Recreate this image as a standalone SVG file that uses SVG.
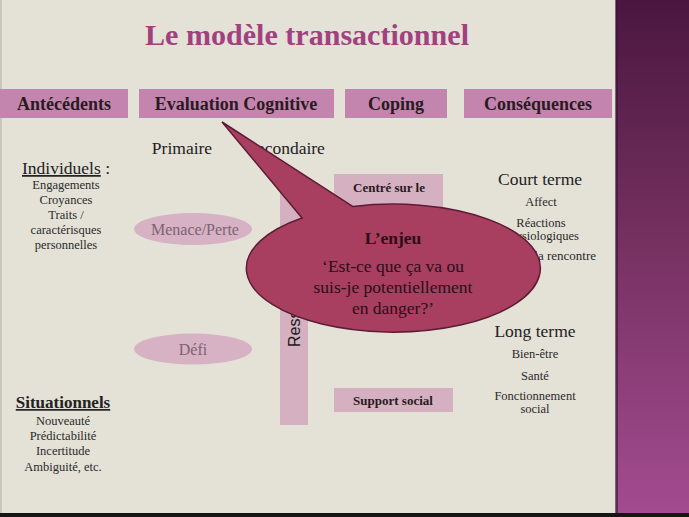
<svg xmlns="http://www.w3.org/2000/svg" width="689" height="517" viewBox="0 0 689 517">
<defs>
<linearGradient id="panel" x1="0" y1="0" x2="0" y2="1">
<stop offset="0" stop-color="#4a1740"/>
<stop offset="0.45" stop-color="#74305f"/>
<stop offset="1" stop-color="#a34c91"/>
</linearGradient>
<style>
.serif{font-family:"Liberation Serif","Times New Roman",serif;}
.head{font-family:"Liberation Serif","Times New Roman",serif;font-weight:bold;font-size:18px;fill:#2b1a22;text-anchor:middle;}
.bar{fill:#c385ae;}
.pale{fill:#d4b0c0;}
.item{font-family:"Liberation Serif","Times New Roman",serif;font-size:12.5px;fill:#2a2a2a;text-anchor:middle;}
.sub{font-family:"Liberation Serif","Times New Roman",serif;font-size:17.5px;fill:#222;}
.oval{fill:#d6b2c4;}
.ovaltxt{font-family:"Liberation Serif","Times New Roman",serif;font-size:16px;fill:#7e6270;text-anchor:middle;}
.boxtxt{font-family:"Liberation Serif","Times New Roman",serif;font-weight:bold;font-size:13px;fill:#2a1a22;text-anchor:middle;}
.call{font-family:"Liberation Serif","Times New Roman",serif;font-size:17.5px;fill:#2a0e18;text-anchor:middle;}
</style>
</defs>
<rect x="0" y="0" width="689" height="517" fill="#e4e1d7"/>
<rect x="0" y="0" width="2" height="517" fill="#c9c6bc"/>
<rect x="616" y="0" width="73" height="517" fill="url(#panel)"/>
<rect x="615" y="0" width="3" height="517" fill="#3a1432" opacity="0.6"/>
<rect x="0" y="513" width="689" height="4" fill="#161616"/>

<text x="307" y="45" class="serif" font-size="30" font-weight="bold" fill="#a2417f" text-anchor="middle" textLength="324" lengthAdjust="spacingAndGlyphs">Le modèle transactionnel</text>

<g id="antecedents">
<rect x="0" y="89" width="128" height="29" class="bar"/>
<text x="64" y="110" class="head">Antécédents</text>
</g>
<g id="evaluation">
<rect x="139" y="89" width="195" height="29" class="bar"/>
<text x="236" y="110" class="head">Evaluation Cognitive</text>
</g>
<g id="coping">
<rect x="345" y="89" width="102" height="29" class="bar"/>
<text x="396" y="110" class="head">Coping</text>
</g>
<g id="consequences">
<rect x="464" y="89" width="148" height="29" class="bar"/>
<text x="538" y="110" class="head">Conséquences</text>
</g>

<g id="individuels">
<text x="66" y="174" class="sub" text-anchor="middle"><tspan text-decoration="underline">Individuels</tspan> :</text>
<text x="66" y="189" class="item">Engagements</text>
<text x="66" y="204" class="item">Croyances</text>
<text x="66" y="219" class="item">Traits /</text>
<text x="66" y="234" class="item">caractérisques</text>
<text x="66" y="249" class="item">personnelles</text>
</g>

<g id="situationnels">
<text x="63" y="408" class="serif" font-size="17" font-weight="bold" fill="#222" text-anchor="middle" text-decoration="underline">Situationnels</text>
<text x="63" y="425" class="item">Nouveauté</text>
<text x="63" y="440" class="item">Prédictabilité</text>
<text x="63" y="455" class="item">Incertitude</text>
<text x="63" y="471" class="item">Ambiguité, etc.</text>
</g>

<g id="primaire">
<text x="182" y="154" class="sub" text-anchor="middle">Primaire</text>
</g>
<g id="secondaire">
<text x="286" y="154" class="sub" text-anchor="middle">Secondaire</text>
</g>

<g id="menace">
<ellipse cx="193" cy="229" rx="59" ry="16" class="oval"/>
<text x="195" y="235" class="ovaltxt">Menace/Perte</text>
</g>
<g id="defi">
<ellipse cx="193" cy="349" rx="59" ry="15.5" class="oval"/>
<text x="193" y="355" class="ovaltxt">Défi</text>
</g>

<g id="ressources">
<rect x="280" y="192" width="28" height="233" class="pale"/>
<text transform="translate(300,347) rotate(-90)" font-family="'Liberation Sans',Arial,sans-serif" font-size="16" fill="#1a1a1a">Ressources</text>
</g>

<g id="centre">
<rect x="334" y="174" width="109" height="56" class="pale"/>
<text x="389" y="192" class="boxtxt">Centré sur le</text>
<text x="389" y="214" class="boxtxt">problème</text>
</g>

<g id="support">
<rect x="334" y="388" width="119" height="24" class="pale"/>
<text x="393" y="405" class="boxtxt">Support social</text>
</g>

<g id="court">
<text x="540" y="185" class="sub" font-size="16" text-anchor="middle">Court terme</text>
<text x="541" y="206" class="item" font-size="13">Affect</text>
<text x="541" y="227" class="item" font-size="13">Réactions</text>
<text x="541" y="240" class="item" font-size="13">physiologiques</text>
<text x="596" y="260" class="item" style="text-anchor:end;font-size:13px">Qualité de la rencontre</text>
</g>

<g id="long">
<text x="535" y="337" class="sub" font-size="16" text-anchor="middle">Long terme</text>
<text x="535" y="358" class="item" font-size="13">Bien-être</text>
<text x="535" y="380" class="item" font-size="13">Santé</text>
<text x="535" y="400" class="item" font-size="13">Fonctionnement</text>
<text x="535" y="413" class="item" font-size="13">social</text>
</g>

<g id="connectors"></g>

<g id="enjeu">
<path d="M353,206.6 L222,122 L302,218 A147,64 0 1 0 353,206.6 Z" fill="#a83e60" stroke="#5e1c34" stroke-width="1.5"/>
<text x="393" y="244" class="call" font-weight="bold">L’enjeu</text>
<text x="393" y="272" class="call">‘Est-ce que ça va ou</text>
<text x="393" y="293" class="call">suis-je potentiellement</text>
<text x="393" y="314" class="call">en danger?’</text>
</g>
</svg>
